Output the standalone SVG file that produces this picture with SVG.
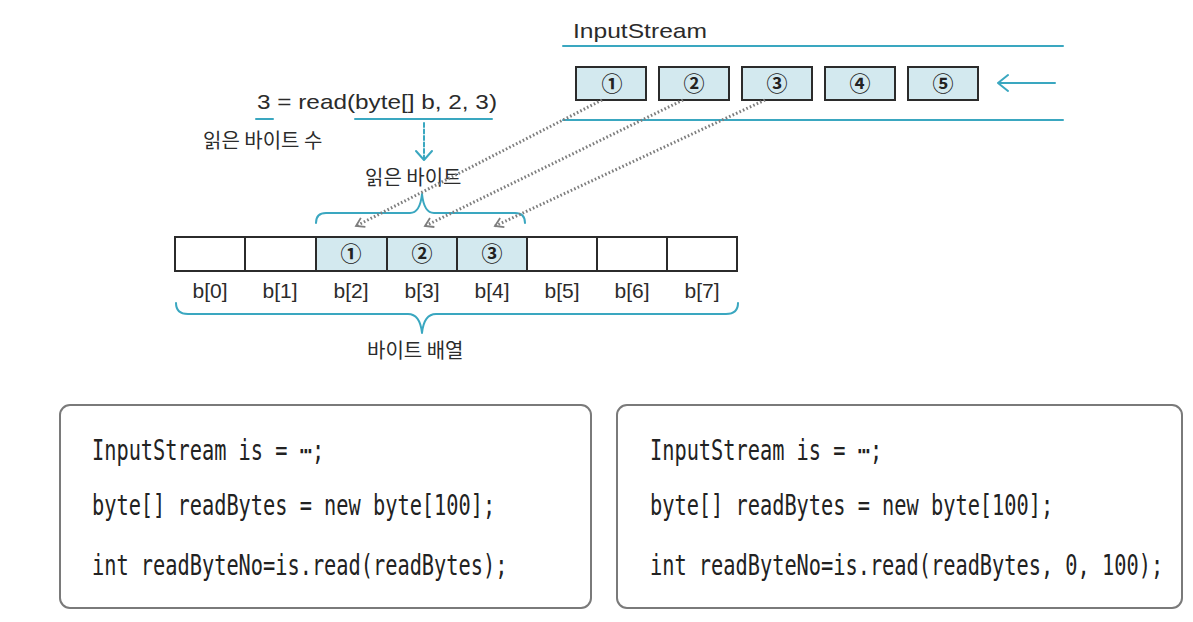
<svg xmlns="http://www.w3.org/2000/svg" width="1193" height="622" viewBox="0 0 1193 622">
<defs>
<style>
.blue{stroke:#3aa7c0;stroke-width:2;fill:none;stroke-linecap:round;stroke-linejoin:round}
.sbox{fill:#d3e9ef;stroke:#2b2b2b;stroke-width:2}
.cell{fill:#ffffff;stroke:#2b2b2b;stroke-width:2}
.cellf{fill:#d3e9ef;stroke:#2b2b2b;stroke-width:2}
.circ{font-family:"Noto Sans CJK KR","DejaVu Sans",sans-serif;font-size:21px;font-weight:700;fill:#222;text-anchor:middle}
.lab{font-family:"Liberation Sans",Arial,sans-serif;font-size:21px;fill:#2b2b2b}
.lbl{font-family:"Liberation Sans",Arial,sans-serif;font-size:21px;fill:#2b2b2b;text-anchor:middle}
.kr{font-family:"Noto Sans CJK KR","Noto Sans",sans-serif;font-size:20px;fill:#2b2b2b}
.code{font-family:"DejaVu Sans Mono","Liberation Mono",monospace;font-size:20.3px;fill:#222}
.cbox{fill:#ffffff;stroke:#7a7a7a;stroke-width:2}
.dot{stroke:#7d7d7d;stroke-width:3;stroke-dasharray:1.6 2.2;fill:none}
</style>
<marker id="chev" viewBox="-10 -7 12 14" markerWidth="12" markerHeight="14" refX="0" refY="0" orient="auto" markerUnits="userSpaceOnUse">
<path d="M-8,-5 L0,0 L-8,5" fill="none" stroke="#7d7d7d" stroke-width="1.8"/>
</marker>
</defs>
<rect width="1193" height="622" fill="#ffffff"/>

<g id="inputstream">
<text class="lab" x="573" y="38" font-size="23" textLength="134" lengthAdjust="spacingAndGlyphs">InputStream</text>
<line class="blue" x1="563" y1="46" x2="1063" y2="46"/>
<line class="blue" x1="563" y1="120" x2="1063" y2="120"/>
<path class="blue" d="M998,83 L1055,83 M1008,75 L998,83 L1008,91"/>
</g>

<g id="stream1"><rect class="sbox" x="576" y="67" width="70" height="33"/><text class="circ" x="612" y="91">①</text></g>
<g id="stream2"><rect class="sbox" x="659" y="67" width="70" height="33"/><text class="circ" x="694" y="91">②</text></g>
<g id="stream3"><rect class="sbox" x="742" y="67" width="70" height="33"/><text class="circ" x="777" y="91">③</text></g>
<g id="stream4"><rect class="sbox" x="825" y="67" width="70" height="33"/><text class="circ" x="860" y="91">④</text></g>
<g id="stream5"><rect class="sbox" x="908" y="67" width="70" height="33"/><text class="circ" x="943" y="91">⑤</text></g>

<g id="read-call">
<text class="lab" x="257" y="109" textLength="240" lengthAdjust="spacingAndGlyphs">3 = read(byte[] b, 2, 3)</text>
<line class="blue" x1="256" y1="119" x2="273" y2="119"/>
<line class="blue" x1="355" y1="119" x2="492" y2="119"/>
<text class="kr" x="203" y="148">읽은 바이트 수</text>
<line class="blue" x1="424" y1="123" x2="424" y2="159" stroke-dasharray="4 2.5"/>
<path class="blue" d="M416,151 L424,160 L432,151"/>
<text class="kr" x="365" y="185">읽은 바이트</text>
<path class="blue" d="M316,223 Q316,213 326,213 L410,213 Q420,213 422,194 Q424,213 434,213 L515,213 Q525,213 525,223"/>
</g>

<g id="array">
<rect class="cell" x="175" y="237" width="70" height="34"/>
<rect class="cell" x="245" y="237" width="71" height="34"/>
<rect class="cellf" x="316" y="237" width="71" height="34"/>
<rect class="cellf" x="387" y="237" width="70" height="34"/>
<rect class="cellf" x="457" y="237" width="70" height="34"/>
<rect class="cell" x="527" y="237" width="70" height="34"/>
<rect class="cell" x="597" y="237" width="70" height="34"/>
<rect class="cell" x="667" y="237" width="70" height="34"/>
<text class="circ" x="351" y="261">①</text>
<text class="circ" x="422" y="261">②</text>
<text class="circ" x="492" y="261">③</text>
<text class="lbl" x="210" y="298">b[0]</text>
<text class="lbl" x="280" y="298">b[1]</text>
<text class="lbl" x="351" y="298">b[2]</text>
<text class="lbl" x="422" y="298">b[3]</text>
<text class="lbl" x="492" y="298">b[4]</text>
<text class="lbl" x="562" y="298">b[5]</text>
<text class="lbl" x="632" y="298">b[6]</text>
<text class="lbl" x="702" y="298">b[7]</text>
<path class="blue" d="M176,303 Q176,314 188,314 L408,314 Q420,314 422,333 Q424,314 436,314 L726,314 Q738,314 738,303"/>
<text class="kr" x="367" y="358">바이트 배열</text>
</g>

<g id="connectors">
<line class="dot" x1="602" y1="100" x2="356" y2="226" marker-end="url(#chev)"/>
<line class="dot" x1="683" y1="100" x2="425" y2="226" marker-end="url(#chev)"/>
<line class="dot" x1="765" y1="100" x2="495" y2="226" marker-end="url(#chev)"/>
</g>

<g id="code-left">
<rect class="cbox" x="60" y="405" width="531" height="203" rx="10"/>
<g transform="scale(1,1.38)">
<text class="code" x="92" y="333.3">InputStream is = ⋯;</text>
<text class="code" x="92" y="373.2">byte[] readBytes = new byte[100];</text>
<text class="code" x="92" y="416.7">int readByteNo=is.read(readBytes);</text>
</g>
</g>

<g id="code-right">
<rect class="cbox" x="617" y="405" width="565" height="203" rx="10"/>
<g transform="scale(1,1.38)">
<text class="code" x="650" y="333.3">InputStream is = ⋯;</text>
<text class="code" x="650" y="373.2">byte[] readBytes = new byte[100];</text>
<text class="code" x="650" y="416.7">int readByteNo=is.read(readBytes, 0, 100);</text>
</g>
</g>
</svg>
